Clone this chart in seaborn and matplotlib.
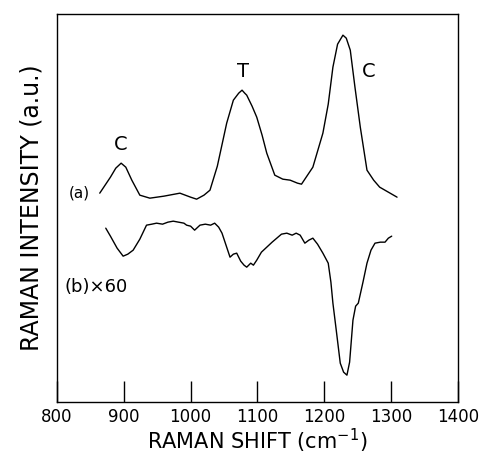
import matplotlib
matplotlib.use("Agg")
import matplotlib.pyplot as plt
import seaborn as sns
import pandas as pd

# spectrum (a) - raman shift (cm-1) and intensity (a.u.)
shift_a = [864, 872, 880, 888, 896, 903, 912, 924, 939, 960, 984, 1000, 1009, 1020,
           1029, 1040, 1054, 1064, 1072, 1077, 1081, 1084, 1092, 1099, 1107, 1114,
           1126, 1138, 1149, 1160, 1166, 1175, 1183, 1198, 1206, 1213, 1220, 1228,
           1233, 1239, 1246, 1254, 1264, 1274, 1283, 1296, 1309]
int_a = [209, 217, 225, 234, 239, 235, 222, 207, 204, 206, 209, 205, 203, 207,
         212, 236, 279, 302, 309, 312, 309, 307, 296, 285, 267, 249,
         227, 223, 222, 219, 218, 227, 235, 269, 298, 335, 358, 367,
         364, 352, 315, 275, 232, 222, 215, 210, 205]

# spectrum (b) x 60
shift_b = [873, 880, 890, 899, 906, 914, 924, 934, 942, 949, 958, 966, 974, 982,
           990, 994, 1000, 1006, 1014, 1022, 1030, 1036, 1042, 1047, 1053, 1059,
           1064, 1069, 1075, 1080, 1084, 1090, 1094, 1099, 1106, 1114, 1122, 1129,
           1136, 1144, 1152, 1158, 1164, 1171, 1177, 1183, 1190, 1198, 1206, 1210,
           1213, 1218, 1224, 1229, 1234, 1238, 1243, 1247, 1251, 1258, 1264, 1270,
           1276, 1284, 1291, 1296, 1301]
int_b = [174, 166, 154, 146, 148, 152, 163, 177, 178, 179, 178, 180, 181, 180,
         179, 177, 176, 172, 177, 178, 177, 179, 175, 169, 157, 145,
         148, 149, 141, 137, 135, 139, 137, 142, 150, 155, 160, 164,
         168, 169, 167, 169, 167, 159, 162, 164, 158, 149, 139, 120,
         99, 72, 39, 30, 27, 40, 82, 96, 99, 120, 139, 152,
         159, 160, 160, 164, 166]

df_a = pd.DataFrame({"shift": shift_a, "intensity": int_a})
df_b = pd.DataFrame({"shift": shift_b, "intensity": int_b})

sns.set_style("white")
plt.rcParams["font.family"] = ["DejaVu Sans"]
plt.rcParams["text.color"] = "black"

fig = plt.figure(figsize=(4.85, 4.57), dpi=100)
ax = fig.add_axes([0.1175, 0.120, 0.8265, 0.849])

sns.lineplot(data=df_a, x="shift", y="intensity", color="black", linewidth=1.0, ax=ax)
sns.lineplot(data=df_b, x="shift", y="intensity", color="black", linewidth=1.0, ax=ax)

ax.text(896, 248, "C", fontsize=14, ha="center", va="bottom")
ax.text(1078, 321, "T", fontsize=14, ha="center", va="bottom")
ax.text(1266, 321, "C", fontsize=14, ha="center", va="bottom")
ax.text(834, 209, "(a)", fontsize=11, ha="center", va="center")
ax.text(811, 115, "(b)\u00d760", fontsize=13, ha="left", va="center")

ax.set_xlim(800, 1400)
ax.set_ylim(0, 388)
ax.set_xticks([800, 900, 1000, 1100, 1200, 1300, 1400])
ax.set_yticks([])
ax.tick_params(axis="x", bottom=True, direction="in", length=15, width=1,
               labelsize=12, pad=4, colors="black")
for s in ax.spines.values():
    s.set_color("black")
    s.set_linewidth(1.0)

ax.set_xlabel("RAMAN SHIFT (cm$^{-1}$)", fontsize=15, labelpad=1, color="black")
ax.set_ylabel("RAMAN INTENSITY (a.u.)", fontsize=17, labelpad=10, color="black")

fig.savefig("out.png", dpi=100)
